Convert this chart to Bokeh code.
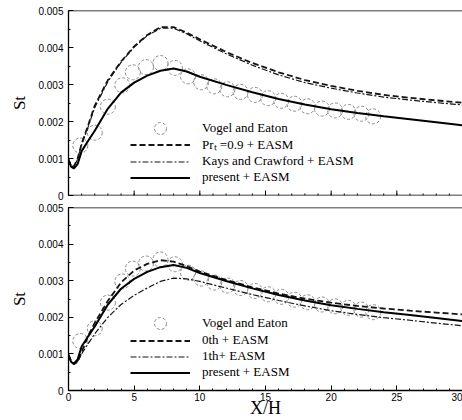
import math
from bokeh.plotting import figure
from bokeh.models import (Legend, LegendItem, FixedTicker, Span, Range1d,
                          CustomJSTickFormatter)
from bokeh.layouts import column
from bokeh.embed import file_html
from bokeh.resources import INLINE

# Experimental data (Vogel and Eaton)
x_exp = [0.9, 2.0, 3.0, 4.1, 4.9, 5.9, 7.0, 8.1, 9.1, 10.1, 11.1, 12.1, 13.1, 14.2,
         15.2, 16.2, 17.2, 18.2, 19.3, 20.3, 21.3, 22.3, 23.2]
st_exp = [0.00135, 0.00170, 0.00240, 0.00298, 0.00333, 0.00347, 0.00358, 0.00345,
          0.00322, 0.00306, 0.00295, 0.00287, 0.00280, 0.00272, 0.00263, 0.00256,
          0.00248, 0.00241, 0.00235, 0.00230, 0.00226, 0.00221, 0.00214]

# Computations
x_sim = [0, 0.2, 0.4, 0.7, 1, 1.5, 2, 3, 4, 5, 6, 7, 8, 9, 10, 12, 14, 16, 18, 20,
         22, 24, 26, 28, 30]
st_prt09 = [0.00098, 0.00080, 0.00078, 0.00100, 0.00140, 0.00190, 0.00243, 0.00312,
            0.00362, 0.00403, 0.00434, 0.00455, 0.00455, 0.00440, 0.00422, 0.00388,
            0.00358, 0.00333, 0.00312, 0.00296, 0.00283, 0.00272, 0.00264, 0.00257,
            0.00251]
st_kays = [0.00098, 0.00080, 0.00078, 0.00098, 0.00137, 0.00186, 0.00238, 0.00308,
           0.00360, 0.00401, 0.00432, 0.00452, 0.00452, 0.00437, 0.00418, 0.00383,
           0.00352, 0.00326, 0.00305, 0.00290, 0.00277, 0.00266, 0.00258, 0.00251,
           0.00245]
st_present = [0.00095, 0.00078, 0.00073, 0.00085, 0.00120, 0.00148, 0.00175, 0.00235,
              0.00278, 0.00305, 0.00324, 0.00337, 0.00343, 0.00335, 0.00321, 0.00299,
              0.00279, 0.00261, 0.00246, 0.00233, 0.00223, 0.00214, 0.00206, 0.00198,
              0.00190]
st_0th = [0.00098, 0.00080, 0.00072, 0.00078, 0.00105, 0.00150, 0.00185, 0.00245,
          0.00295, 0.00328, 0.00346, 0.00356, 0.00352, 0.00340, 0.00325, 0.00302,
          0.00282, 0.00265, 0.00251, 0.00240, 0.00231, 0.00224, 0.00218, 0.00213,
          0.00208]
st_1th = [0.00098, 0.00080, 0.00073, 0.00080, 0.00100, 0.00128, 0.00155, 0.00200,
          0.00235, 0.00260, 0.00280, 0.00298, 0.00307, 0.00305, 0.00298, 0.00280,
          0.00262, 0.00246, 0.00231, 0.00218, 0.00208, 0.00199, 0.00192, 0.00184,
          0.00177]

x_ticks = [0, 5, 10, 15, 20, 25, 30]
x_minor = list(range(0, 31))
y_ticks = [0, 0.001, 0.002, 0.003, 0.004, 0.005]
y_minor = [i * 0.0005 for i in range(11)]

top_labels = ["Vogel and Eaton", "Pr\u209c =0.9 + EASM", "Kays and Crawford + EASM", "present + EASM"]
bot_labels = ["Vogel and Eaton", "0th + EASM", "1th+ EASM", "present + EASM"]
x_title = "X/H"
y_title = "St"

SERIF = "Liberation Serif"
SANS = "Liberation Sans"
X_END = 30

y_fmt = CustomJSTickFormatter(code="return tick == 0 ? '0' : tick.toFixed(3);")


def style_axis(ax):
    ax.axis_line_color = "black"
    ax.axis_line_width = 1.3
    ax.major_tick_in = 5
    ax.major_tick_out = 0
    ax.minor_tick_in = 2
    ax.minor_tick_out = 0
    ax.major_tick_line_color = "black"
    ax.minor_tick_line_color = "black"
    ax.major_label_text_font = SANS
    ax.major_label_text_font_size = "10px"
    ax.major_label_text_color = "black"


def make_panel(height, mb_top, mb_bottom, show_x):
    p = figure(width=462, height=height, x_range=Range1d(0, X_END),
               y_range=Range1d(0, 0.005), output_backend="svg", toolbar_location=None,
               min_border_left=68, min_border_right=0, min_border_top=mb_top,
               min_border_bottom=mb_bottom)
    p.outline_line_color = None
    p.grid.visible = False
    p.add_layout(Span(location=0.005, dimension="width", line_color="black", line_width=1.3))
    style_axis(p.yaxis[0])
    p.yaxis.ticker = FixedTicker(ticks=y_ticks, minor_ticks=y_minor)
    p.yaxis.formatter = y_fmt
    p.yaxis.major_label_standoff = 5
    p.yaxis.axis_label = y_title
    p.yaxis.axis_label_text_font = SERIF
    p.yaxis.axis_label_text_font_size = "17px"
    p.yaxis.axis_label_text_font_style = "normal"
    p.yaxis.axis_label_text_color = "black"
    p.yaxis.axis_label_standoff = 6
    if show_x:
        style_axis(p.xaxis[0])
        p.xaxis.ticker = FixedTicker(ticks=x_ticks, minor_ticks=x_minor)
        p.xaxis.major_label_standoff = 2
        p.xaxis.axis_label = x_title
        p.xaxis.axis_label_text_font = SERIF
        p.xaxis.axis_label_text_font_size = "18px"
        p.xaxis.axis_label_text_font_style = "normal"
        p.xaxis.axis_label_text_color = "black"
        p.xaxis.axis_label_standoff = -6
    else:
        # bottom axis line with inward ticks only, no labels
        p.xaxis.visible = False
        p.add_layout(Span(location=0, dimension="width", line_color="black", line_width=1.3))
        p.ray(x=x_ticks, y=[0] * len(x_ticks), length=5, length_units="screen",
              angle=math.pi / 2, line_color="black", line_width=1)
        p.ray(x=x_minor, y=[0] * len(x_minor), length=2, length_units="screen",
              angle=math.pi / 2, line_color="black", line_width=1)
    return p


def add_series(p, labels, dashed, dashdot):
    c = p.scatter(x_exp, st_exp, marker="circle", size=15, fill_color=None,
                  line_color="#8a8a8a", line_width=1.0, line_dash="3 2")
    l1 = p.line(x_sim, dashed, line_color="#151515", line_width=1.8, line_dash="6 3")
    l2 = p.line(x_sim, dashdot, line_color="#151515", line_width=1.2, line_dash="6 2 2 2")
    l3 = p.line(x_sim, st_present, line_color="#000000", line_width=2.0)

    common = dict(padding=0, margin=0, border_line_color=None, background_fill_alpha=0,
                  label_text_font=SERIF, label_text_font_size="13px",
                  label_text_color="black", glyph_width=60, label_standoff=12,
                  spacing=0, label_height=15)
    leg_a = Legend(items=[LegendItem(label=labels[0], renderers=[c])],
                   location=(62, 52), glyph_height=30, **common)
    leg_b = Legend(items=[LegendItem(label=labels[1], renderers=[l1]),
                          LegendItem(label=labels[2], renderers=[l2]),
                          LegendItem(label=labels[3], renderers=[l3])],
                   location=(62, 10), glyph_height=15, **common)
    p.add_layout(leg_a)
    p.add_layout(leg_b)


top = make_panel(201, 10, 6, False)
add_series(top, top_labels, st_prt09, st_kays)

bot = make_panel(219, 6, 29, True)
add_series(bot, bot_labels, st_0th, st_1th)

layout = column(top, bot, spacing=0)
open("out.html", "w").write(file_html(layout, INLINE))
